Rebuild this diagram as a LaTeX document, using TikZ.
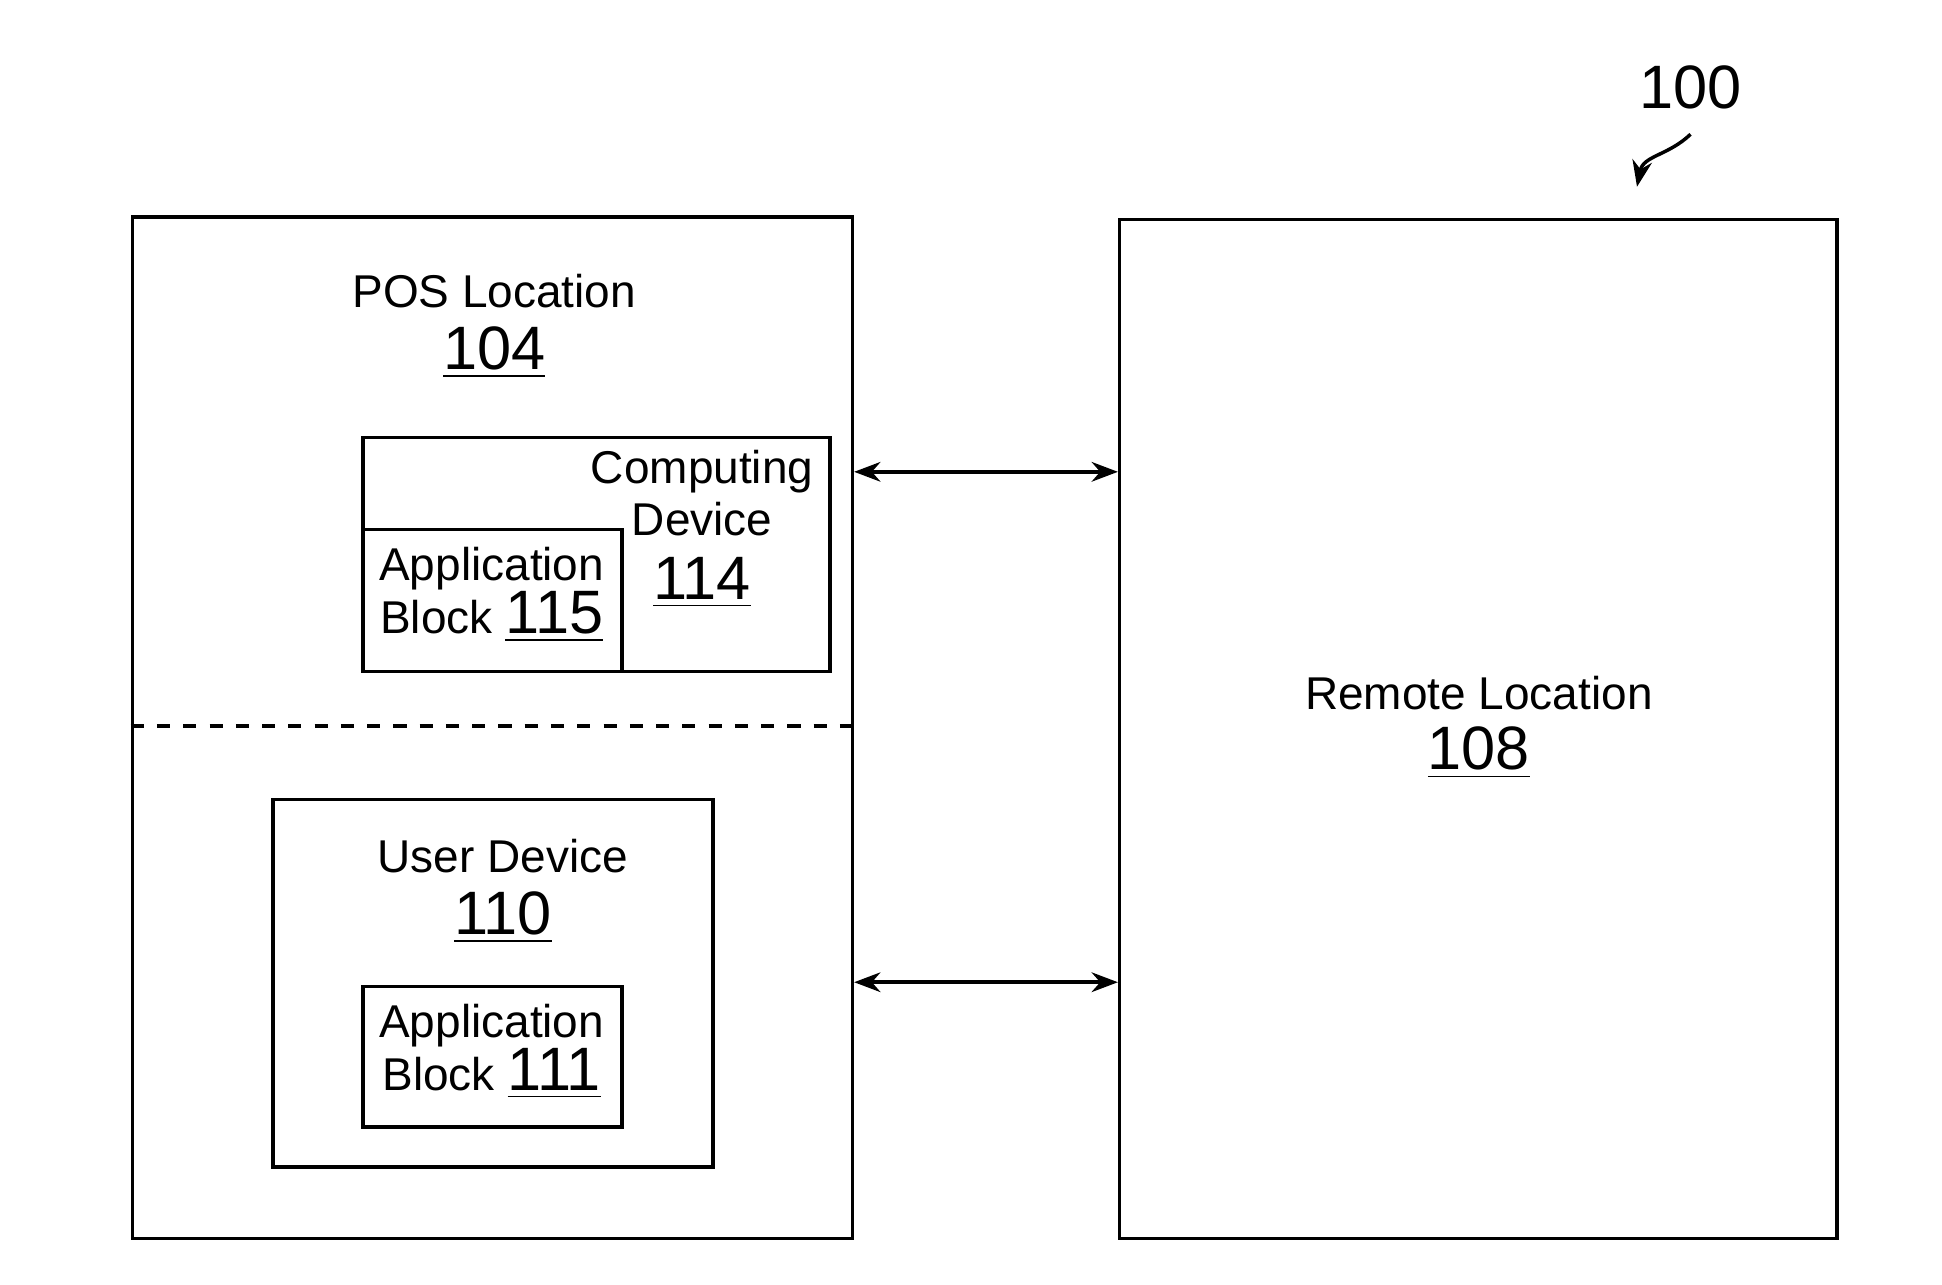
\documentclass[tikz,border=0pt]{standalone}
\usepackage{fontspec}
\setmainfont{Liberation Sans}
\usetikzlibrary{arrows.meta}
\begin{document}
\begin{tikzpicture}[x=0.01cm,y=-0.01cm,
    box/.style={draw, thick, inner sep=0, anchor=north west},
    lbl/.style={font=\fontsize{10.5}{12}\selectfont, align=center},
    num/.style={font=\fontsize{14}{16}\selectfont},
    link/.style={thick, {Stealth[length=6pt]}-{Stealth[length=6pt]}}]
  \useasboundingbox (0,0) rectangle (1560,1032);
  % outer blocks
  \node [box, minimum width=5.78cm, minimum height=8.2cm] (pos) at (105,173) {};
  \node [box, minimum width=5.76cm, minimum height=8.18cm] (remote) at (898,175) {};
  \draw [thick, dashed] (pos.west |- 0,583) -- (pos.east |- 0,583);
  \node [lbl] (poslbl) at (397,234) {POS Location};
  \node [num] (posnum) at (397,283) {\underline{104}};
  \node [lbl] (remlbl) at (1188,557) {Remote Location};
  \node [num] (remnum) at (1188,605) {\underline{108}};
  % computing device
  \node [box, minimum width=3.75cm, minimum height=1.88cm] (comp) at (290,350) {};
  \node [box, minimum width=2.08cm, minimum height=1.14cm] (app115) at (290,424) {};
  \node [lbl] (complbl) at (564,396) {Computing\\Device};
  \node [num] (compnum) at (564,468) {\underline{114}};
  \node [lbl] (app115lbl) at (395,478) {Application\\Block \fontsize{14}{16}\selectfont\underline{115}};
  % user device
  \node [box, minimum width=3.53cm, minimum height=2.95cm] (user) at (218,641) {};
  \node [box, minimum width=2.08cm, minimum height=1.13cm] (app111) at (290,791) {};
  \node [lbl] (userlbl) at (404,688) {User Device};
  \node [num] (usernum) at (404,737) {\underline{110}};
  \node [lbl] (app111lbl) at (395,845) {Application\\Block \fontsize{14}{16}\selectfont\underline{111}};
  % links
  \coordinate (a1) at (pos.east |- 0,379);
  \coordinate (b1) at (remote.west |- 0,379);
  \coordinate (a2) at (pos.east |- 0,789);
  \coordinate (b2) at (remote.west |- 0,789);
  \draw [link] (a1) -- (b1);
  \draw [link] (a2) -- (b2);
  % figure reference
  \node [num] (fig) at (1358,70) {100};
  \coordinate (figtip) at (1315,150);
  \draw [thick, -{Stealth[length=6pt]}] (fig.south) ++(0,8) .. controls (1340,125) and (1320,125) .. (figtip);
\end{tikzpicture}
\end{document}
